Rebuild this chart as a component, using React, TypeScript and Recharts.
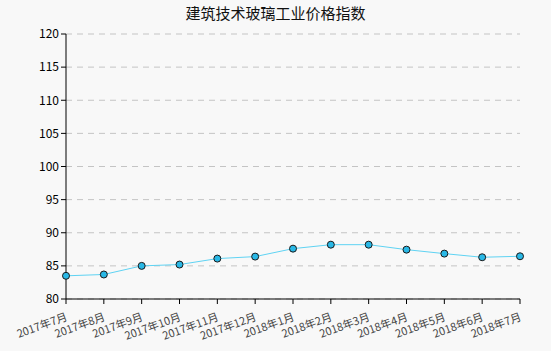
import { LineChart, Line, XAxis, YAxis, CartesianGrid } from "recharts"

const months = [
  "2017年7月", "2017年8月", "2017年9月", "2017年10月", "2017年11月", "2017年12月",
  "2018年1月", "2018年2月", "2018年3月", "2018年4月", "2018年5月", "2018年6月", "2018年7月",
]
const indexValues = [83.5, 83.7, 85.0, 85.2, 86.1, 86.4, 87.6, 88.2, 88.2, 87.45, 86.85, 86.3, 86.45]
const yTicks = [80, 85, 90, 95, 100, 105, 110, 115, 120]

const data = months.map((month, i) => ({ month, value: indexValues[i] }))

const font = "'Noto Sans CJK SC', 'DejaVu Sans', sans-serif"

function MonthTick(props: any) {
  const { x, y, payload } = props
  return (
    <text
      x={x + 2}
      y={y + 14}
      textAnchor="end"
      fontSize={11}
      fontFamily={font}
      fill="#444"
      transform={`rotate(-20 ${x + 2} ${y + 14})`}
    >
      {payload.value}
    </text>
  )
}

export default function App() {
  return (
    <div style={{ position: "absolute", left: 0, top: 0, width: 551, height: 351, background: "#f8f8f8" }}>
      <div
        style={{
          position: "absolute",
          top: 2,
          width: 551,
          textAlign: "center",
          fontFamily: font,
          fontSize: 15,
          color: "#111",
        }}
      >
        建筑技术玻璃工业价格指数
      </div>
      <LineChart width={551} height={351} data={data} margin={{ top: 34, right: 31, left: 0, bottom: 0 }}>
        <CartesianGrid vertical={false} stroke="#c4c4c4" strokeDasharray="6 5" />
        <XAxis
          dataKey="month"
          interval={0}
          height={52}
          stroke="#000"
          tickLine={{ stroke: "#000" }}
          tickSize={5}
          tick={<MonthTick />}
        />
        <YAxis
          domain={[80, 120]}
          ticks={yTicks}
          width={66}
          stroke="#000"
          tickSize={5}
          tick={{ fill: "#000", fontSize: 12, fontFamily: font }}
        />
        <Line
          type="linear"
          dataKey="value"
          stroke="#5fd3f3"
          strokeWidth={1}
          dot={{ r: 3.5, fill: "#29b8e6", stroke: "#1a1a1a", strokeWidth: 1 }}
          isAnimationActive={false}
        />
      </LineChart>
    </div>
  )
}
